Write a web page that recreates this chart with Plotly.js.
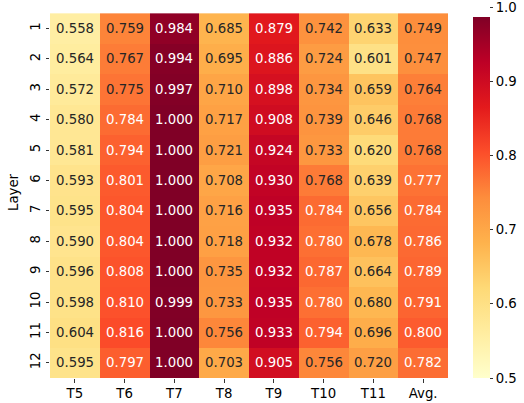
<!DOCTYPE html>
<html>
<head>
<meta charset="utf-8">
<script src="https://cdn.plot.ly/plotly-3.0.1.min.js"></script>
<style>html,body{margin:0;padding:0;background:#fff;}#chart{width:524px;height:403px;}</style>
</head>
<body>
<div id="chart"></div>
<script>
// ---- data ----
const tasks = ["T5", "T6", "T7", "T8", "T9", "T10", "T11", "Avg."];
const layers = ["1", "2", "3", "4", "5", "6", "7", "8", "9", "10", "11", "12"];
const T5  = [0.558, 0.564, 0.572, 0.580, 0.581, 0.593, 0.595, 0.590, 0.596, 0.598, 0.604, 0.595];
const T6  = [0.759, 0.767, 0.775, 0.784, 0.794, 0.801, 0.804, 0.804, 0.808, 0.810, 0.816, 0.797];
const T7  = [0.984, 0.994, 0.997, 1.000, 1.000, 1.000, 1.000, 1.000, 1.000, 0.999, 1.000, 1.000];
const T8  = [0.685, 0.695, 0.710, 0.717, 0.721, 0.708, 0.716, 0.718, 0.735, 0.733, 0.756, 0.703];
const T9  = [0.879, 0.886, 0.898, 0.908, 0.924, 0.930, 0.935, 0.932, 0.932, 0.935, 0.933, 0.905];
const T10 = [0.742, 0.724, 0.734, 0.739, 0.733, 0.768, 0.784, 0.780, 0.787, 0.780, 0.794, 0.756];
const T11 = [0.633, 0.601, 0.659, 0.646, 0.620, 0.639, 0.656, 0.678, 0.664, 0.680, 0.696, 0.720];
const Avg = [0.749, 0.747, 0.764, 0.768, 0.768, 0.777, 0.784, 0.786, 0.789, 0.791, 0.800, 0.782];
const cbTicks = [0.5, 0.6, 0.7, 0.8, 0.9, 1.0];
const cbTickText = ["0.5", "0.6", "0.7", "0.8", "0.9", "1.0"];

const columns = [T5, T6, T7, T8, T9, T10, T11, Avg];
const z = layers.map((_, r) => columns.map(col => col[r]));

// matplotlib YlOrRd
const ylorrd = ["#ffffcc", "#ffeda0", "#fed976", "#feb24c", "#fd8d3c", "#fc4e2a", "#e31a1c", "#bd0026", "#800026"];
const colorscale = ylorrd.map((c, i) => [i / (ylorrd.length - 1), c]);
// colorbar scale (reference bar leaves a small white strip at its top)
const cut = 0.973;
const cbScale = ylorrd.map((c, i) => [cut * i / (ylorrd.length - 1), c]);
cbScale.push([cut + 0.0001, "#ffffff"], [1, "#ffffff"]);

const font = "DejaVu Sans, Liberation Sans, sans-serif";

const annotations = [];
layers.forEach((ly, r) => {
  tasks.forEach((tk, c) => {
    const v = z[r][c];
    annotations.push({
      x: c, y: r, xref: "x", yref: "y",
      text: v.toFixed(3), showarrow: false,
      font: {family: font, size: 13.3, color: v > 0.776 ? "#ffffff" : "#262626"}
    });
  });
});

const heat = {
  type: "heatmap", x: tasks, y: layers, z: z,
  zmin: 0.5, zmax: 1.0, colorscale: colorscale, showscale: false,
  xgap: 0, ygap: 0, hoverinfo: "skip"
};
const cbTrace = {
  type: "scatter", mode: "markers", x: [tasks[0]], y: [layers[0]],
  marker: {
    color: [0.5], cmin: 0.5, cmax: 1.0, colorscale: cbScale, opacity: 0, size: 1,
    showscale: true,
    colorbar: {
      x: 1.0628, xanchor: "left", xpad: 0, xref: "paper",
      y: 0, yanchor: "bottom", ypad: 0, yref: "paper",
      len: 371, lenmode: "pixels", thickness: 17, thicknessmode: "pixels",
      outlinewidth: 0, ticklabeloverflow: "allow",
      tickmode: "array", tickvals: cbTicks, ticktext: cbTickText,
      ticks: "outside", ticklen: 3.5, tickwidth: 0.8, tickcolor: "#000",
      tickfont: {family: font, size: 13.3, color: "#000"}
    }
  },
  hoverinfo: "skip", showlegend: false
};

const layout = {
  width: 524, height: 403,
  margin: {l: 50, r: 76, t: 7, b: 25, pad: 0},
  paper_bgcolor: "#fff", plot_bgcolor: "#fff",
  showlegend: false,
  font: {family: font, size: 13.3, color: "#000"},
  xaxis: {
    type: "category", categoryarray: tasks, showgrid: false, zeroline: false, showline: false,
    ticks: "outside", ticklen: 3.5, tickwidth: 0.8, tickcolor: "#000",
    tickfont: {family: font, size: 13.3, color: "#000"}, fixedrange: true
  },
  yaxis: {
    type: "category", categoryarray: layers, autorange: "reversed",
    showgrid: false, zeroline: false, showline: false,
    ticks: "outside", ticklen: 3.5, tickwidth: 0.8, tickcolor: "#000", tickangle: -90,
    tickfont: {family: font, size: 13.3, color: "#000"},
    title: {text: "Layer", font: {family: font, size: 13.3, color: "#000"}, standoff: 6},
    fixedrange: true
  },
  annotations: annotations
};

Plotly.newPlot("chart", [heat, cbTrace], layout, {staticPlot: true, displayModeBar: false});
</script>
</body>
</html>
